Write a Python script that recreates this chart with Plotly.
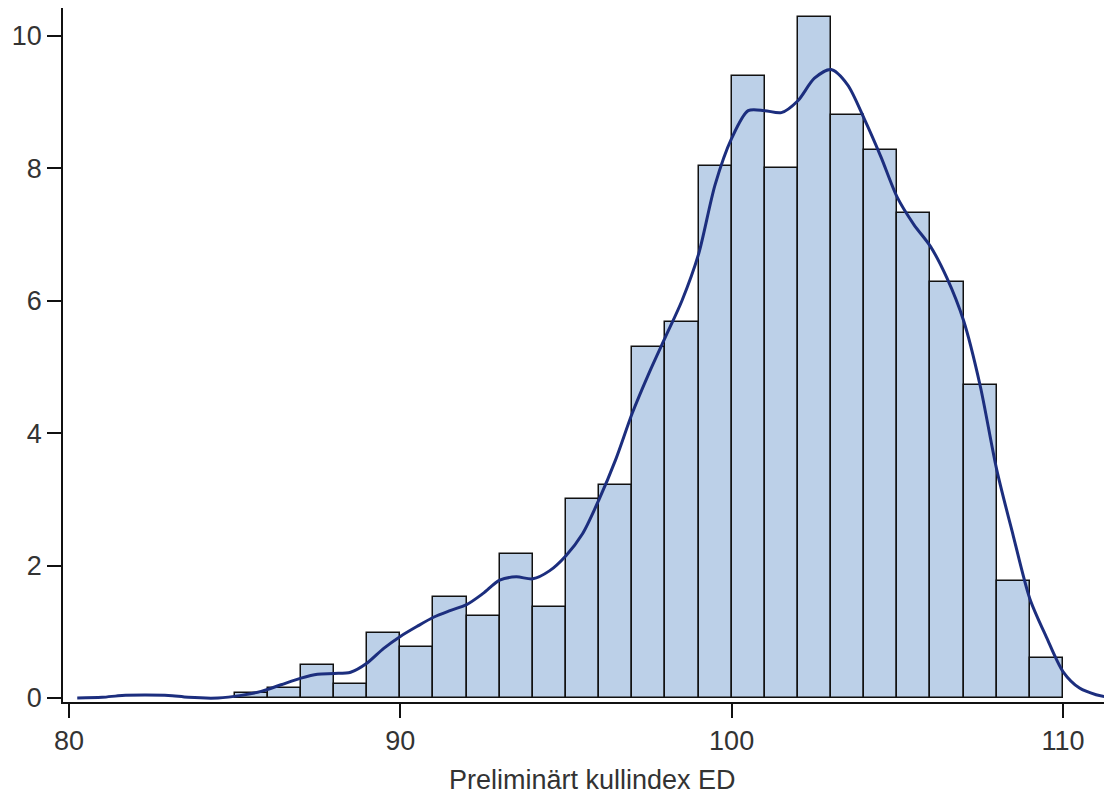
import plotly.graph_objects as go

# Histogram bins (left edges, width 1) and densities (percent)
bin_left = [85, 86, 87, 88, 89, 90, 91, 92, 93, 94, 95, 96, 97, 98, 99,
            100, 101, 102, 103, 104, 105, 106, 107, 108, 109]
bin_height = [0.08, 0.155, 0.50, 0.215, 0.975, 0.77, 1.53, 1.24, 2.18, 1.37,
              3.01, 3.21, 5.30, 5.68, 8.04, 9.40, 8.01, 10.28, 8.80, 8.27,
              7.32, 6.28, 4.73, 1.76, 0.60]

# Kernel density curve
kde_x = [80.25, 81.0, 81.6, 82.3, 83.0, 83.6, 84.5, 85.2, 85.8, 86.4, 87.0,
         87.5, 88.0, 88.5, 89.0, 89.5, 90.0, 90.5, 91.0, 91.5, 92.0, 92.5,
         93.0, 93.5, 94.0, 94.5, 95.0, 95.5, 96.0, 96.5, 97.0, 97.5, 98.0,
         98.5, 99.0, 99.5, 100.0, 100.5, 101.0, 101.5, 102.0, 102.5, 103.0,
         103.5, 104.0, 104.5, 105.0, 105.5, 106.0, 106.5, 107.0, 107.5,
         108.0, 108.5, 109.0, 109.5, 110.0, 110.5, 111.0, 111.5]
kde_y = [0.0, 0.01, 0.04, 0.045, 0.04, 0.01, 0.0, 0.04, 0.1, 0.2, 0.3,
         0.36, 0.37, 0.39, 0.53, 0.75, 0.93, 1.08, 1.22, 1.32, 1.41, 1.58,
         1.78, 1.83, 1.80, 1.92, 2.15, 2.48, 3.0, 3.6, 4.3, 4.9, 5.45,
         6.0, 6.7, 7.75, 8.45, 8.87, 8.87, 8.84, 9.02, 9.36, 9.49,
         9.26, 8.75, 8.18, 7.56, 7.15, 6.82, 6.34, 5.7, 4.72,
         3.45, 2.45, 1.5, 0.92, 0.40, 0.15, 0.05, 0.0]

x_ticks = [80, 90, 100, 110]
y_ticks = [0, 2, 4, 6, 8, 10]
x_title = "Preliminärt kullindex ED"

fig = go.Figure()
fig.add_trace(go.Bar(
    x=[b + 0.5 for b in bin_left], y=bin_height, width=1,
    marker=dict(color="#bcd0e8", line=dict(color="#111111", width=1.5)),
    showlegend=False, hoverinfo="skip"))
fig.add_trace(go.Scatter(
    x=kde_x, y=kde_y, mode="lines",
    line=dict(color="#1c2e7e", width=3, shape="spline", smoothing=0.8),
    showlegend=False, hoverinfo="skip"))

font_fam = "Liberation Sans, Arial, sans-serif"
# page body has an 8px margin, so the figure is 8px smaller and offset
fig.update_layout(
    width=1104, height=794,
    margin=dict(l=55, r=0, t=0, b=100, autoexpand=False),
    paper_bgcolor="white", plot_bgcolor="white",
    bargap=0,
    font=dict(family=font_fam, color="#333333"),
    xaxis=dict(range=[79.82, 111.48], tickvals=x_ticks,
               ticks="outside", ticklen=14, tickwidth=1.5, tickcolor="#111111",
               showline=True, linecolor="#111111", linewidth=1.5,
               showgrid=False, zeroline=False, automargin=False,
               tickfont=dict(size=27, color="#333333")),
    yaxis=dict(range=[-0.06, 10.42], tickvals=y_ticks,
               ticks="outside", ticklen=14, tickwidth=1.5, tickcolor="#111111",
               showline=True, linecolor="#111111", linewidth=1.5,
               showgrid=False, zeroline=False, automargin=False,
               tickfont=dict(size=27, color="#333333")),
    annotations=[dict(text=x_title, xref="paper", yref="paper",
                      x=0.505, y=-0.1124, xanchor="center", yanchor="middle",
                      showarrow=False,
                      font=dict(size=27, color="#333333", family=font_fam))],
)

fig.write_html("out.html")
